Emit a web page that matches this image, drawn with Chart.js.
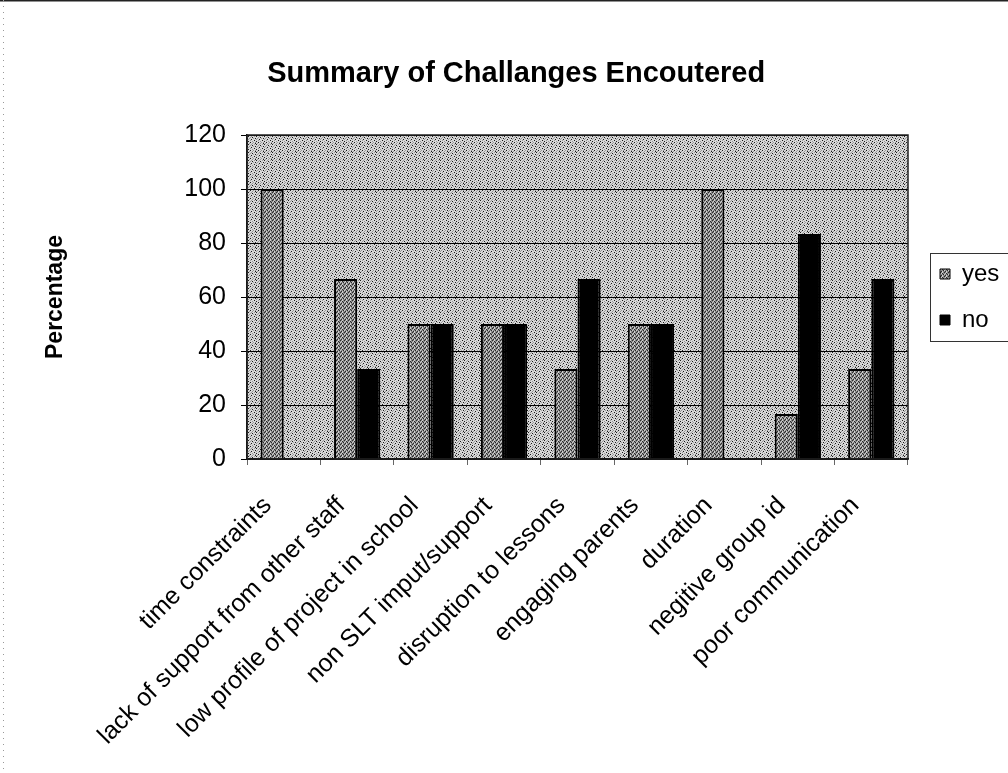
<!DOCTYPE html>
<html>
<head>
<meta charset="utf-8">
<script src="https://cdn.jsdelivr.net/npm/chart.js@4/dist/chart.umd.min.js"></script>
<style>
  html, body { margin: 0; padding: 0; background: #fff; }
  #wrap { width: 1008px; height: 773px; position: relative; }
</style>
</head>
<body>
<div id="wrap"><canvas id="c" width="1008" height="773"></canvas></div>
<script>
// Survey results: share of respondents answering yes / no per challenge
const categories = [
  'time constraints',
  'lack of support from other staff',
  'low profile of project in school',
  'non SLT imput/support',
  'disruption to lessons',
  'engaging parents',
  'duration',
  'negitive group id',
  'poor communication'
];
const yesValues = [100, 66.7, 50, 50, 33.3, 50, 100, 16.7, 33.3];
const noValues  = [0, 33.3, 50, 50, 66.7, 50, 0, 83.3, 66.7];
const yTicks = [0, 20, 40, 60, 80, 100, 120];

const FONT = "'Liberation Sans', Arial, sans-serif";

// small stipple tiles for the plot background and the "yes" bars
function stipple(base, dots, rows) {
  const t = document.createElement('canvas');
  t.width = rows[0].length; t.height = rows.length;
  const g = t.getContext('2d');
  g.fillStyle = base; g.fillRect(0, 0, t.width, t.height);
  rows.forEach((r, y) => {
    for (let x = 0; x < r.length; x++) {
      if (r[x] === '#') { g.fillStyle = dots[0]; g.fillRect(x, y, 1, 1); }
      else if (r[x] === '+') { g.fillStyle = dots[1]; g.fillRect(x, y, 1, 1); }
    }
  });
  return document.getElementById('c').getContext('2d').createPattern(t, 'repeat');
}
const plotFill = stipple('#d8d8d8', ['#1a1a1a', '#9a9a9a'], [
  '#..+..+.',
  '..+.#...',
  '.+...+.#',
  '+..#....',
  '..+...#.',
  '#...+...',
  '..#..+.+',
  '.+..+..#'
]);
const yesFill = stipple('#8a8a8a', ['#2a2a2a', '#d0d0d0'], [
  '#.+.',
  '.+#.',
  '+..#',
  '.#+.'
]);

const target = { left: 247, right: 908, top: 135, bottom: 459 };
const padLeft = 33;
const legendPad = 22;
const legendShift = 10;

const plotDecor = {
  id: 'plotDecor',
  afterLayout(chart) {
    // legend column sits beside the plot, centred on it
    const lg = chart.legend, a = chart.chartArea;
    if (!lg) return;
    lg.top = a.top; lg.bottom = a.bottom; lg.height = a.bottom - a.top;
    lg.left += legendShift; lg.right += legendShift;
  },
  beforeDraw(chart) {
    const a = chart.chartArea, ctx = chart.ctx;
    ctx.save();
    // outer chart frame: solid top edge, faint dotted left edge
    ctx.strokeStyle = '#222';
    ctx.lineWidth = 1.5;
    ctx.beginPath(); ctx.moveTo(0, 0.75); ctx.lineTo(chart.width, 0.75); ctx.stroke();
    ctx.strokeStyle = '#999';
    ctx.lineWidth = 1;
    ctx.setLineDash([1, 5]);
    ctx.beginPath(); ctx.moveTo(3.5, 0); ctx.lineTo(3.5, chart.height); ctx.stroke();
    ctx.setLineDash([]);
    ctx.fillStyle = plotFill;
    ctx.fillRect(a.left, a.top, a.right - a.left, a.bottom - a.top);
    ctx.restore();
  },
  beforeDatasetsDraw(chart) {
    const a = chart.chartArea, ctx = chart.ctx;
    ctx.save();
    ctx.strokeStyle = '#000';
    ctx.lineWidth = 1;
    const ys = chart.scales.y;
    yTicks.forEach(v => {
      const py = Math.round(ys.getPixelForValue(v)) + 0.5;
      ctx.beginPath(); ctx.moveTo(a.left, py); ctx.lineTo(a.right, py); ctx.stroke();
    });
    ctx.restore();
  },
  afterDraw(chart) {
    const a = chart.chartArea, ctx = chart.ctx;
    ctx.save();
    ctx.strokeStyle = '#222';
    ctx.lineWidth = 1.5;
    ctx.strokeRect(a.left, a.top, a.right - a.left, a.bottom - a.top);
    // frame around the legend
    const lg = chart.legend;
    if (lg) {
      const x0 = Math.round(lg.left + legendPad - 10) + 0.5;
      const cy = (a.top + a.bottom) / 2;
      ctx.strokeStyle = '#333';
      ctx.lineWidth = 1;
      ctx.strokeRect(x0, Math.round(cy - 44) + 0.5, chart.width - x0 + 5, 88);
    }
    ctx.restore();
  }
};

const chart = new Chart(document.getElementById('c'), {
  type: 'bar',
  data: {
    labels: categories,
    datasets: [
      { label: 'yes', data: yesValues, backgroundColor: yesFill, borderColor: '#000', borderWidth: 2 },
      { label: 'no', data: noValues, backgroundColor: '#000', borderColor: '#000', borderWidth: 2 }
    ]
  },
  options: {
    responsive: false,
    animation: false,
    layout: { padding: { left: padLeft, right: 10, top: 0, bottom: 0 } },
    datasets: { bar: { categoryPercentage: 0.63, barPercentage: 1.0 } },
    plugins: {
      title: {
        display: true,
        text: 'Summary of Challanges Encoutered',
        color: '#000',
        font: { family: FONT, size: 29, weight: 'bold' },
        padding: { top: 57, bottom: 40 }
      },
      legend: {
        position: 'right',
        align: 'center',
        labels: {
          color: '#000',
          font: { family: FONT, size: 24 },
          boxWidth: 10,
          boxHeight: 10,
          padding: legendPad,
          generateLabels(chart) {
            return chart.data.datasets.map((ds, i) => ({
              text: ds.label,
              fillStyle: ds.backgroundColor,
              strokeStyle: '#000',
              lineWidth: 1,
              datasetIndex: i,
              hidden: false
            }));
          }
        }
      },
      tooltip: { enabled: false }
    },
    scales: {
      x: {
        grid: { display: true, offset: true, drawOnChartArea: false, color: '#666', tickLength: 6 },
        border: { display: true, color: '#000', width: 1.5 },
        ticks: {
          color: '#000',
          font: { family: FONT, size: 25 },
          maxRotation: 45, minRotation: 45,
          autoSkip: false,
          padding: 26,
          labelOffset: -16
        },
        afterFit(s) { s.height = 773 - target.bottom; }
      },
      y: {
        min: 0, max: 120,
        afterBuildTicks(s) { s.ticks = yTicks.map(v => ({ value: v })); },
        grid: { color: '#000', lineWidth: 1, tickLength: 6, drawOnChartArea: true },
        border: { display: true, color: '#000', width: 1.5 },
        ticks: { color: '#000', font: { family: FONT, size: 25 }, padding: 15 },
        title: {
          display: true,
          text: 'Percentage',
          color: '#000',
          font: { family: FONT, size: 23, weight: 'bold' },
          padding: { top: 9, bottom: 0 }
        },
        afterFit(s) { s.width = target.left - padLeft; }
      }
    }
  },
  plugins: [plotDecor]
});

// nudge the outer paddings so the plot area lands where intended
const ca = chart.chartArea;
chart.options.layout.padding.right += (ca.right - target.right);
chart.options.plugins.title.padding.bottom += (target.top - ca.top);
chart.update('none');
</script>
</body>
</html>
